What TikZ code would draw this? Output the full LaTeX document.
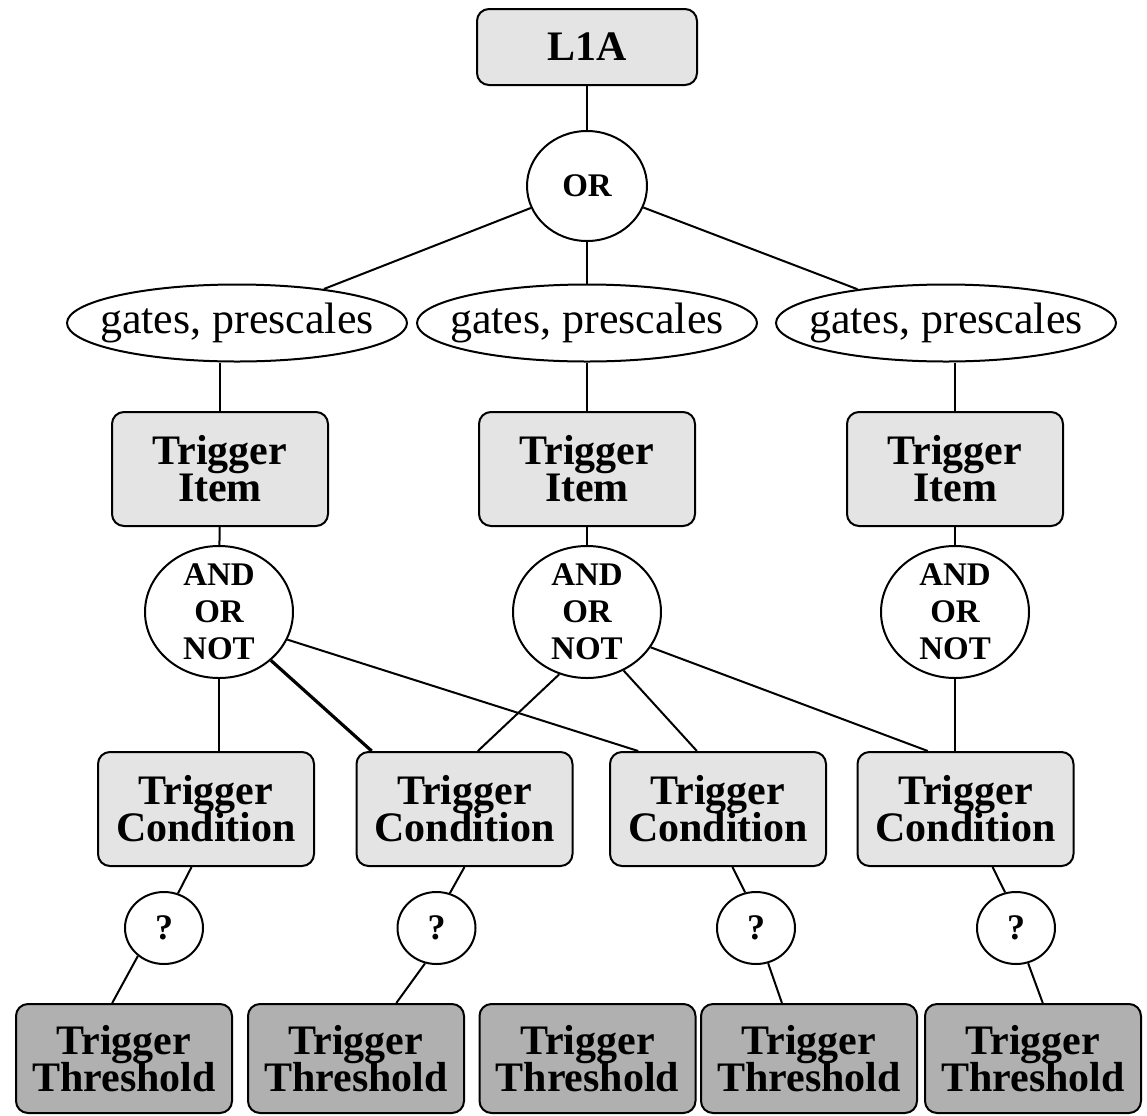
\documentclass[tikz,border=0pt]{standalone}
\usepackage{fontspec}
\setmainfont{Liberation Serif}
\usetikzlibrary{shapes.geometric}
\definecolor{itemgray}{RGB}{228,228,228}
\definecolor{thrgray}{RGB}{176,176,176}
\newcommand\tightlines{\lineskiplimit-50pt\relax}
\tikzset{
  tbox/.style={draw,rounded corners=6pt,fill=itemgray,minimum width=108pt,
    minimum height=57pt,align=center,inner sep=0pt,
    font=\fontsize{21}{18.5}\selectfont\bfseries\tightlines},
  thrbox/.style={tbox,fill=thrgray,minimum height=54.5pt},
  logic/.style={draw,ellipse,fill=white,inner xsep=0pt,inner ysep=-6pt,align=center,
    font=\fontsize{16.5}{18.5}\selectfont\bfseries},
  qmark/.style={logic,minimum width=39pt,minimum height=36pt,
    font=\fontsize{18}{20}\selectfont\bfseries},
  presc/.style={draw,ellipse,inner xsep=-16pt,inner ysep=-6pt,minimum width=170pt,
    minimum height=38.5pt,font=\fontsize{22}{24}\selectfont}
}
\begin{document}
\begin{tikzpicture}[x=0.5pt,y=-0.5pt,line width=1pt]
\useasboundingbox (0,0) rectangle (1147,1115);
\node[tbox,minimum width=110pt,minimum height=38pt] (l1a) at (587,47) {L1A};
\node[logic,minimum width=60pt,minimum height=55pt] (or) at (587,186) {OR};
\node[presc] (g1) at (237,323) {gates, prescales};
\node[presc] (g2) at (587,323) {gates, prescales};
\node[presc] (g3) at (946,323) {gates, prescales};
\node[tbox] (i1) at (220,469) {Trigger\\Item};
\node[tbox] (i2) at (587,469) {Trigger\\Item};
\node[tbox] (i3) at (955,469) {Trigger\\Item};
\node[logic,minimum width=74pt,minimum height=66pt] (a1) at (219,612) {AND\\OR\\NOT};
\node[logic,minimum width=74pt,minimum height=66pt] (a2) at (587,612) {AND\\OR\\NOT};
\node[logic,minimum width=74pt,minimum height=66pt] (a3) at (955,612) {AND\\OR\\NOT};
\node[tbox] (c1) at (206,809) {Trigger\\Condition};
\node[tbox] (c2) at (464.5,809) {Trigger\\Condition};
\node[tbox] (c3) at (718,809) {Trigger\\Condition};
\node[tbox] (c4) at (965.5,809) {Trigger\\Condition};
\node[qmark] (q1) at (164,928) {?};
\node[qmark] (q2) at (436.5,928) {?};
\node[qmark] (q3) at (756,928) {?};
\node[qmark] (q4) at (1016,928) {?};
\node[thrbox] (t1) at (124,1058.5) {Trigger\\Threshold};
\node[thrbox] (t2) at (356,1058.5) {Trigger\\Threshold};
\node[thrbox] (t3) at (587.5,1058.5) {Trigger\\Threshold};
\node[thrbox] (t4) at (809,1058.5) {Trigger\\Threshold};
\node[thrbox] (t5) at (1033,1058.5) {Trigger\\Threshold};
\draw (l1a) -- (or);
\draw (or) -- (g1);
\draw (or) -- (g2);
\draw (or) -- (g3);
\foreach \n in {1,2,3}{
  \draw (g\n.south -| i\n) -- (i\n);
  \draw (i\n) -- (a\n);
}
\draw (a1) -- (a1 |- c1.north);
\draw[line width=1.6pt] (a1.317) -- (c2.148);
\draw (a1.338) -- (c3.144);
\draw (a2.246) -- (c2.77);
\draw (a2.302) -- (c3.110);
\draw (a2.331) -- (c4.123);
\draw (a3) -- (a3 |- c4.north);
\draw (c1.256) -- (q1.68);
\draw (q1.227) -- (t1.102);
\draw (c2.270) -- (q2.69);
\draw (q2.252) -- (t2.54);
\draw (c3.284) -- (q3.107);
\draw (q3.289) -- (t4.116);
\draw (c4.295) -- (q4.107);
\draw (q4.289) -- (t5.80);
\end{tikzpicture}
\end{document}
